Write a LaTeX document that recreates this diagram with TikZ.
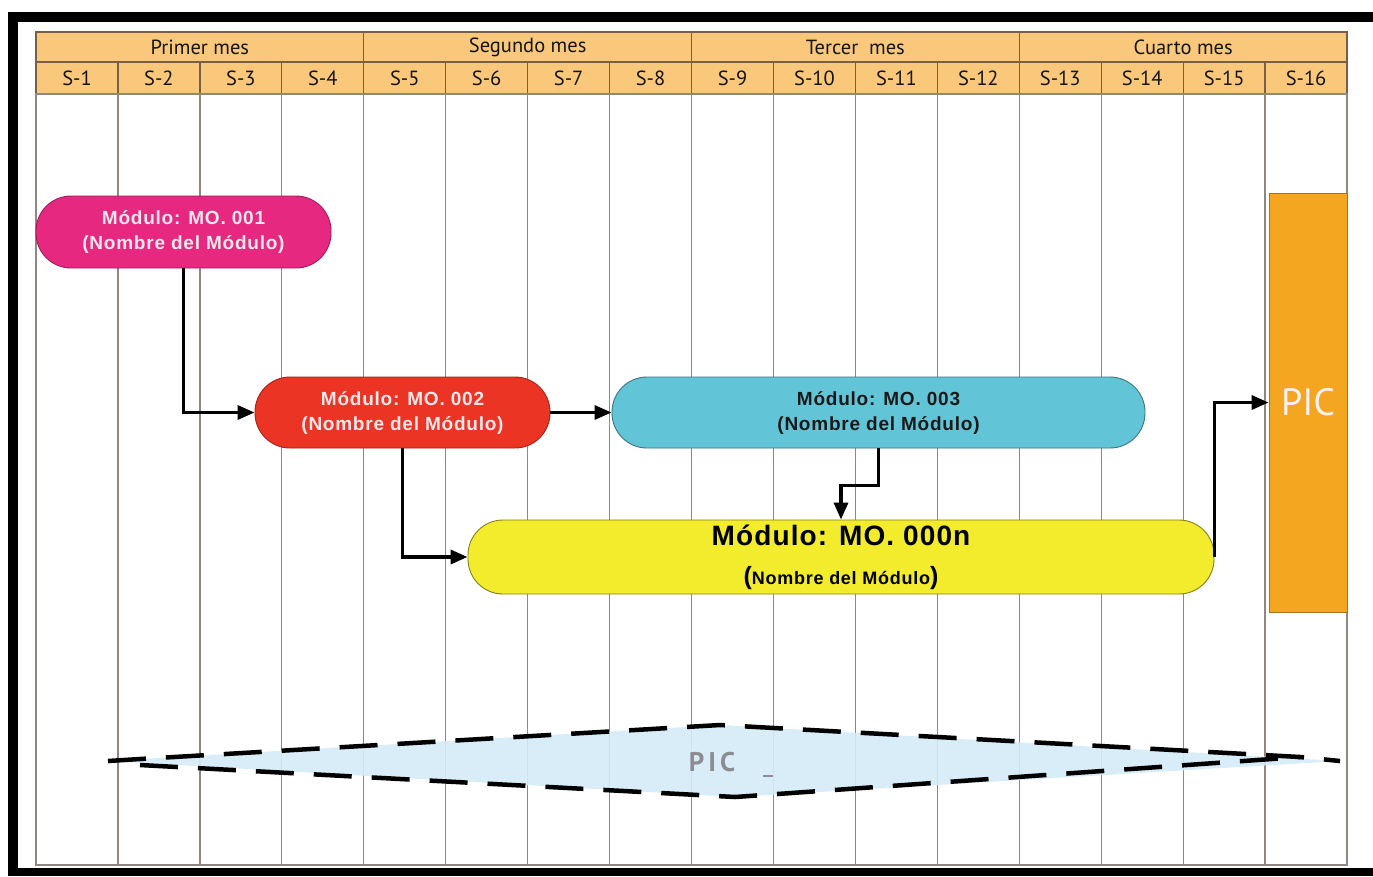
\documentclass[tikz,border=0pt]{standalone}
\usepackage{fontspec}
\setmainfont{Liberation Sans}
\newfontfamily\hdrfont{PT Sans}
\newfontfamily\modfont[LetterSpace=4]{Liberation Sans}
\newfontfamily\picfont[LetterSpace=15]{PT Sans}
\usetikzlibrary{arrows.meta}

\definecolor{hdrfill}{RGB}{250,200,122}
\definecolor{hdrline}{RGB}{120,95,70}
\definecolor{gridline}{RGB}{145,135,130}
\definecolor{magentamod}{RGB}{230,40,128}
\definecolor{redmod}{RGB}{235,52,36}
\definecolor{cyanmod}{RGB}{98,196,215}
\definecolor{yellowmod}{RGB}{242,236,44}
\definecolor{orangepic}{RGB}{245,166,32}
\definecolor{lighttext}{RGB}{248,232,236}
\definecolor{picband}{RGB}{212,236,248}
\definecolor{picgrey}{RGB}{140,140,146}

\tikzset{
  hdrtext/.style={font=\hdrfont\fontsize{20.5}{22}\selectfont, text=black!92, inner sep=0pt},
  modbox/.style={rounded corners=35pt, inner sep=0pt, line width=0.9pt, align=center,
    font=\modfont\bfseries\fontsize{19}{25}\selectfont},
  conn/.style={line width=3.4pt, black, -{Triangle[length=17pt,width=14pt]}},
  pichatch/.style={line width=4.5pt, black, dash pattern=on 38pt off 20pt}
}

\begin{document}
\begin{tikzpicture}[x=1pt,y=-1pt]
\useasboundingbox (0,0) rectangle (1373,876);
\fill[white] (0,0) rectangle (1373,876);

% outer black frame (top, left, bottom)
\fill[black] (8,12) rectangle (1373,22);
\fill[black] (8,12) rectangle (18,876);
\fill[black] (8,868) rectangle (1373,876);

% header rows
\fill[hdrfill] (36,32) rectangle (1347,94);
\draw[hdrline, line width=1.3pt] (36,32) rectangle (1347,94);
\draw[hdrline, line width=1.3pt] (36,62) -- (1347,62);
\foreach \i in {4,8,12}
  \draw[hdrline, line width=1.3pt] ({36+\i*81.94},32) -- ({36+\i*81.94},62);
\foreach \i in {1,...,15}
  \draw[hdrline, line width=1.3pt] ({36+\i*81.94},62) -- ({36+\i*81.94},94);

% body grid
\foreach \i in {1,...,15}
  \draw[gridline, line width=1.3pt] ({36+\i*81.94},94) -- ({36+\i*81.94},865);
\draw[gridline, line width=1.3pt] (36,94) rectangle (1347,865);

% month labels
\foreach \t [count=\k] in {Primer mes, Segundo mes, Tercer\ \ mes, Cuarto mes}
  \node[hdrtext] (mes\k) at ({36+(4*\k-2)*81.94},47) {\t};
% week labels
\foreach \k in {1,...,16}
  \node[hdrtext] (sem\k) at ({36+(\k-0.5)*81.94},78) {S-\k};

% dashed PIC band
\fill[picband, opacity=0.9] (108,761) -- (720,725) -- (1340,761) -- (735,797) -- cycle;
\draw[pichatch] (108,761) -- (140,759) -- (720,725) -- (1300,757) -- (1340,761);
\draw[pichatch] (140,765) -- (735,797) -- (1300,757);
\node[font=\picfont\bfseries\fontsize{27}{27}\selectfont, text=picgrey, inner sep=0pt] (picd) at (712,762) {PIC};
\draw[picgrey, line width=2pt] (763,776) -- (773,776);

% modules
\node[modbox, fill=magentamod, draw=magentamod!70!black, text=lighttext,
  minimum width=295pt, minimum height=72pt] (m1) at (183.5,232)
  {Módulo: MO. 001\\(Nombre del Módulo)};
\node[modbox, fill=redmod, draw=redmod!70!black, text=lighttext,
  minimum width=295pt, minimum height=71pt] (m2) at (402.5,412.5)
  {Módulo: MO. 002\\(Nombre del Módulo)};
\node[modbox, fill=cyanmod, draw=cyanmod!60!black, text=black!90,
  minimum width=533pt, minimum height=71pt] (m3) at (878.5,412.5)
  {Módulo: MO. 003\\(Nombre del Módulo)};
\node[modbox, fill=yellowmod, draw=yellowmod!55!black, text=black,
  minimum width=746pt, minimum height=74pt,
  font=\modfont\bfseries\fontsize{28}{39}\selectfont] (mn) at (841,557)
  {Módulo: MO. 000n\\{\fontsize{25}{39}\selectfont(}{\fontsize{18}{39}\selectfont Nombre del Módulo}{\fontsize{25}{39}\selectfont)}};

% PIC block
\node[fill=orangepic, draw=orangepic!70!black, line width=0.8pt, minimum width=78pt,
  minimum height=419pt, inner sep=0pt, text=lighttext!60!white,
  font=\hdrfont\fontsize{38}{40}\selectfont] (pic) at (1308,402.5) {PIC};

% connectors
\draw[conn] (m1.south) |- (m2.west);
\draw[conn] (m2.east) -- (m3.west);
\draw[conn] (m2.south) |- (mn.west);
\draw[conn] (m3.south) -- ++(0,37) -| (mn.north);
\draw[conn] (mn.east) |- (pic.west);
\end{tikzpicture}
\end{document}
